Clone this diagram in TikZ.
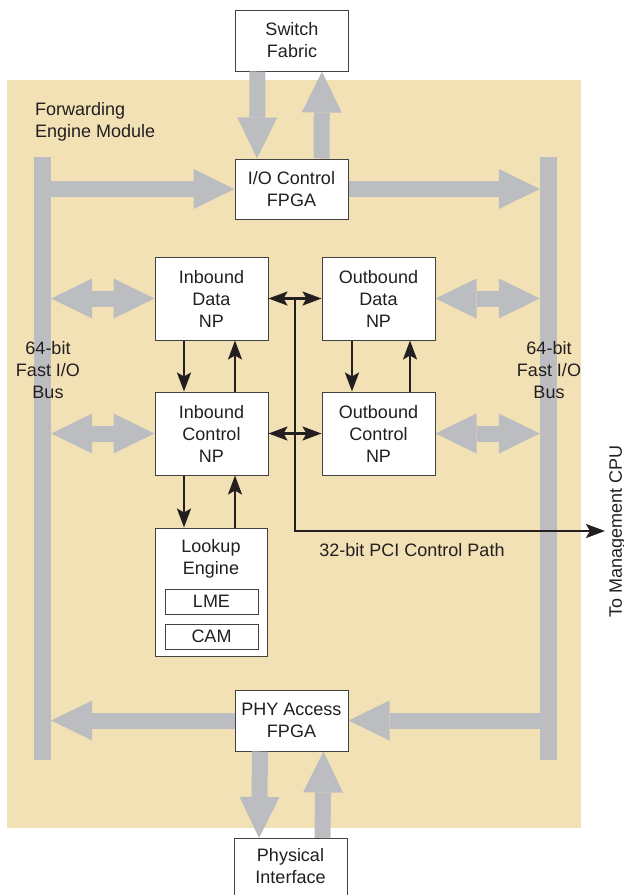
\documentclass[tikz,border=0pt]{standalone}
\usepackage{fontspec}
\setmainfont{Liberation Sans}
\usepackage{tikz}
\usetikzlibrary{arrows.meta, positioning}
\definecolor{modbeige}{RGB}{242,225,181}
\definecolor{bargray}{RGB}{188,189,193}
\definecolor{ink}{RGB}{35,31,32}

\begin{document}
\begin{tikzpicture}[
		x=1pt, y=-1pt,
		every node/.style={font=\fontsize{18}{22}\selectfont, text=ink, align=center},
		box/.style={rectangle, draw=ink!85, line width=1pt, fill=white, minimum width=113pt, inner sep=0pt},
		subbox/.style={box, minimum width=93pt, minimum height=25pt},
		bus/.style={rectangle, fill=bargray, minimum width=17pt, minimum height=603pt, inner sep=0pt},
		fat/.style={draw=bargray, line width=16pt, -{Triangle[length=41pt, width=40pt, line width=0pt]}},
		fatboth/.style={draw=bargray, line width=16pt, {Triangle[length=41pt, width=40pt, line width=0pt]}-{Triangle[length=41pt, width=40pt, line width=0pt]}},
		ctl/.style={draw=ink, line width=2.4pt, -{Stealth[length=19pt, width=14pt, inset=4pt]}},
		ctlboth/.style={draw=ink, line width=2.4pt, {Stealth[length=19pt, width=14pt, inset=4pt]}-{Stealth[length=19pt, width=14pt, inset=4pt]}}
	]
  \useasboundingbox (0, 0) rectangle (624, 895);
  \fill [modbeige] (7, 80) rectangle (581, 828);

  \node (lbus) [bus] at (42.5, 458.5) {};
  \node (rbus) [bus] at (548.5, 458.5) {};
  \node (lbuslabel) at (48, 370) {64-bit\\Fast I/O\\Bus};
  \node (rbuslabel) at (549, 370) {64-bit\\Fast I/O\\Bus};
  \node (fem) [anchor=north west, align=left, inner sep=0pt] at (35, 102) {Forwarding\\Engine Module};

  \node (sw) [box, minimum height=61pt] at (292, 40.5) {Switch\\Fabric};
  \node (io) [box, minimum height=60pt] at (291.5, 189) {I/O Control\\FPGA};
  \node (ind) [box, minimum height=83pt] at (211.5, 298.5) {Inbound\\Data\\NP};
  \node (outd) [box, minimum height=83pt] at (378.5, 298.5) {Outbound\\Data\\NP};
  \node (inc) [box, minimum height=83pt] at (211.5, 433.5) {Inbound\\Control\\NP};
  \node (outc) [box, minimum height=83pt] at (378.5, 433.5) {Outbound\\Control\\NP};
  \node (lookup) [box, minimum width=112pt, minimum height=128pt] at (211, 592) {};
  \node (lookuptxt) [below=12pt of lookup.north, inner sep=0pt] {Lookup\\Engine};
  \node (lme) [subbox] at (211.5, 601.5) {LME};
  \node (cam) [subbox, below=9pt of lme] {CAM};
  \node (phy) [box, minimum height=61pt] at (291.5, 720.5) {PHY Access\\FPGA};
  \node (phys) [box, minimum height=70pt, anchor=north] at (290.5, 838) {};
  \node (physlabel) [below=10pt of phys.north, inner sep=0pt] {Physical\\Interface};

  \node (cpu) [rotate=90, anchor=north, inner sep=0pt] at (609, 531) {To Management CPU};
  \node (pcilabel) at (412, 550) {32-bit PCI Control Path};
  \coordinate (bustop) at (295, 298.5);

  \draw [fat] ([xshift=-34.5pt]sw.south) -- ([xshift=-34.5pt]io.north);
  \draw [fat] ([xshift=30pt]io.north) -- ([xshift=30pt]sw.south);
  \draw [fat] (io.west -| lbus.east) -- (io.west);
  \draw [fat] (io.east) -- (io.east -| rbus.west);
  \draw [fat] (phy.west) -- (phy.west -| lbus.east);
  \draw [fat] (phy.east -| rbus.west) -- (phy.east);
  \draw [fat] ([xshift=-31.5pt]phy.south) -- ([xshift=-31.5pt]phys.north);
  \draw [fat] ([xshift=32pt]phys.north) -- ([xshift=32pt]phy.south);
  \draw [fatboth] (ind.west -| lbus.east) -- (ind.west);
  \draw [fatboth] (inc.west -| lbus.east) -- (inc.west);
  \draw [fatboth] (outd.east) -- (outd.east -| rbus.west);
  \draw [fatboth] (outc.east) -- (outc.east -| rbus.west);

  \draw [ctl] ([xshift=-27.5pt]ind.south) -- ([xshift=-27.5pt]inc.north);
  \draw [ctl] ([xshift=23.5pt]inc.north) -- ([xshift=23.5pt]ind.south);
  \draw [ctl] ([xshift=-26.5pt]outd.south) -- ([xshift=-26.5pt]outc.north);
  \draw [ctl] ([xshift=31.5pt]outc.north) -- ([xshift=31.5pt]outd.south);
  \draw [ctl] ([xshift=-27.5pt]inc.south) -- ([xshift=-27pt]lookup.north);
  \draw [ctl] ([xshift=24pt]lookup.north) -- ([xshift=23.5pt]inc.south);
  \draw [ctlboth] (ind.east) -- (outd.west);
  \draw [ctlboth] (inc.east) -- (outc.west);
  \draw [ctl] (bustop) |- ([xshift=-4pt]cpu.north);
\end{tikzpicture}
\end{document}
